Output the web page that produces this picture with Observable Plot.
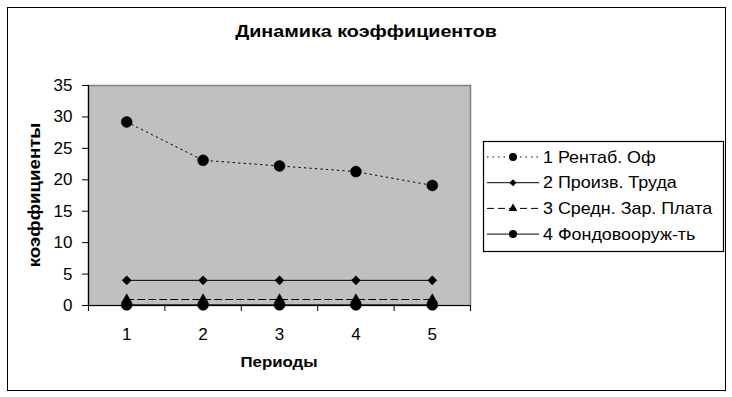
<!DOCTYPE html>
<html>
<head>
<meta charset="utf-8">
<script src="https://cdn.jsdelivr.net/npm/d3@7"></script>
<script src="https://cdn.jsdelivr.net/npm/@observablehq/plot@0.6"></script>
<style>
  html, body { margin: 0; padding: 0; background: #fff; }
  #wrap { position: relative; width: 732px; height: 397px; font-family: "Liberation Sans", Arial, sans-serif; }
  #frame { position: absolute; left: 7px; top: 7px; width: 719px; height: 384px; border: 1.5px solid #000; box-sizing: border-box; pointer-events: none; }
  #title { position: absolute; left: 7px; width: 718px; top: 22px; text-align: center; font-weight: bold; font-size: 17px; transform: scaleX(1.16); }
  #xlabel { position: absolute; left: 88px; width: 382px; top: 353px; text-align: center; font-weight: bold; font-size: 15px; transform: scaleX(1.12); }
  #ylabel { position: absolute; left: 35px; top: 195px; transform: translate(-50%, -50%) rotate(-90deg) scaleX(1.1); font-weight: bold; font-size: 17px; white-space: nowrap; }
  #legend { position: absolute; left: 483px; top: 141px; }
  svg { overflow: visible; }
</style>
</head>
<body>
<div id="wrap">
  <div id="chart"></div>
  <div id="frame"></div>
  <div id="title"></div>
  <div id="xlabel"></div>
  <div id="ylabel"></div>
  <div id="legend"></div>
</div>
<script>
const titleText = "Динамика коэффициентов";
const xLabel = "Периоды";
const yLabel = "коэффициенты";
const periods = [1, 2, 3, 4, 5];
const yTicks = [0, 5, 10, 15, 20, 25, 30, 35];
const seriesNames = ["1 Рентаб. Оф", "2 Произв. Труда", "3 Средн. Зар. Плата", "4 Фондовооруж-ть"];
const rentab = [29.2, 23.1, 22.2, 21.3, 19.1];
const proizv = [4, 4, 4, 4, 4];
const sredn = [0.95, 0.95, 0.95, 0.95, 0.95];
const fondo = [0.1, 0.1, 0.1, 0.1, 0.1];

const styles = [
  {dash: "1.5,4", symbol: "circle", r: 5.5, lr: 4},
  {dash: null, symbol: "diamond2", r: 4.1, lr: 3.2},
  {dash: "7,4", symbol: "triangle", r: 3.7, lr: 3.2},
  {dash: null, symbol: "circle", r: 5.5, lr: 4}
];
const allValues = [rentab, proizv, sredn, fondo];
const data = allValues.flatMap((vals, i) => vals.map((v, j) => ({series: i, period: periods[j], value: v})));
const boundaries = d3.range(periods.length + 1).map(i => periods[0] - 0.5 + i);

const lineMarks = [];
styles.forEach((s, i) => {
  const d = data.filter(r => r.series === i);
  lineMarks.push(Plot.line(d, {x: "period", y: "value", stroke: "black", strokeWidth: 1, strokeDasharray: s.dash}));
});
styles.forEach((s, i) => {
  const d = data.filter(r => r.series === i);
  lineMarks.push(Plot.dot(d, {x: "period", y: "value", symbol: () => s.symbol, r: s.r, fill: "black", stroke: "black", strokeWidth: 0.5}));
});

const chart = Plot.plot({
  width: 732, height: 397,
  marginLeft: 88, marginRight: 262, marginTop: 85, marginBottom: 92,
  x: {domain: [boundaries[0], boundaries[boundaries.length - 1]]},
  y: {domain: [0, 35]},
  style: {fontFamily: "'Liberation Sans', Arial, sans-serif", fontSize: "17px", color: "black", background: "transparent"},
  marks: [
    Plot.frame({fill: "#c0c0c0", stroke: "#808080", strokeWidth: 1.5}),
    Plot.axisY({ticks: yTicks, tickSize: 6, tickPadding: 10, label: null, fontSize: 17}),
    Plot.axisX({ticks: boundaries, tickSize: 6, tickFormat: () => "", label: null}),
    Plot.axisX({ticks: periods, tickSize: 0, tickPadding: 22, tickFormat: d3.format("d"), label: null, fontSize: 17}),
    Plot.ruleY([0], {stroke: "black", strokeWidth: 1.2}),
    Plot.ruleX([boundaries[0]], {stroke: "black", strokeWidth: 1.2}),
    ...lineMarks
  ]
});
document.getElementById("chart").appendChild(chart);
document.getElementById("title").textContent = titleText;
document.getElementById("xlabel").textContent = xLabel;
document.getElementById("ylabel").textContent = yLabel;

// Legend
const lw = 241, lh = 111, rowH = 25.7, row0 = 16;
const lsvg = d3.select("#legend").append("svg").attr("width", lw).attr("height", lh);
lsvg.append("rect").attr("x", 0.5).attr("y", 0.5).attr("width", lw - 1).attr("height", lh - 1)
  .attr("fill", "white").attr("stroke", "black").attr("stroke-width", 1.2);
styles.forEach((s, i) => {
  const y = row0 + i * rowH;
  const g = lsvg.append("g").attr("transform", `translate(0,${y})`);
  g.append("line").attr("x1", 4).attr("x2", 56).attr("y1", 0).attr("y2", 0)
    .attr("stroke", "black").attr("stroke-width", 1).attr("stroke-dasharray", s.dash);
  const sym = {circle: d3.symbolCircle, diamond2: d3.symbolDiamond2, triangle: d3.symbolTriangle}[s.symbol];
  g.append("path").attr("transform", "translate(30,0)")
    .attr("d", d3.symbol(sym, Math.PI * s.lr * s.lr)()).attr("fill", "black");
  g.append("text").attr("transform", "translate(60,0) scale(1.12,1)").attr("dy", "0.35em")
    .attr("font-family", "'Liberation Sans', Arial, sans-serif").attr("font-size", 16)
    .text(seriesNames[i]);
});
</script>
</body>
</html>
